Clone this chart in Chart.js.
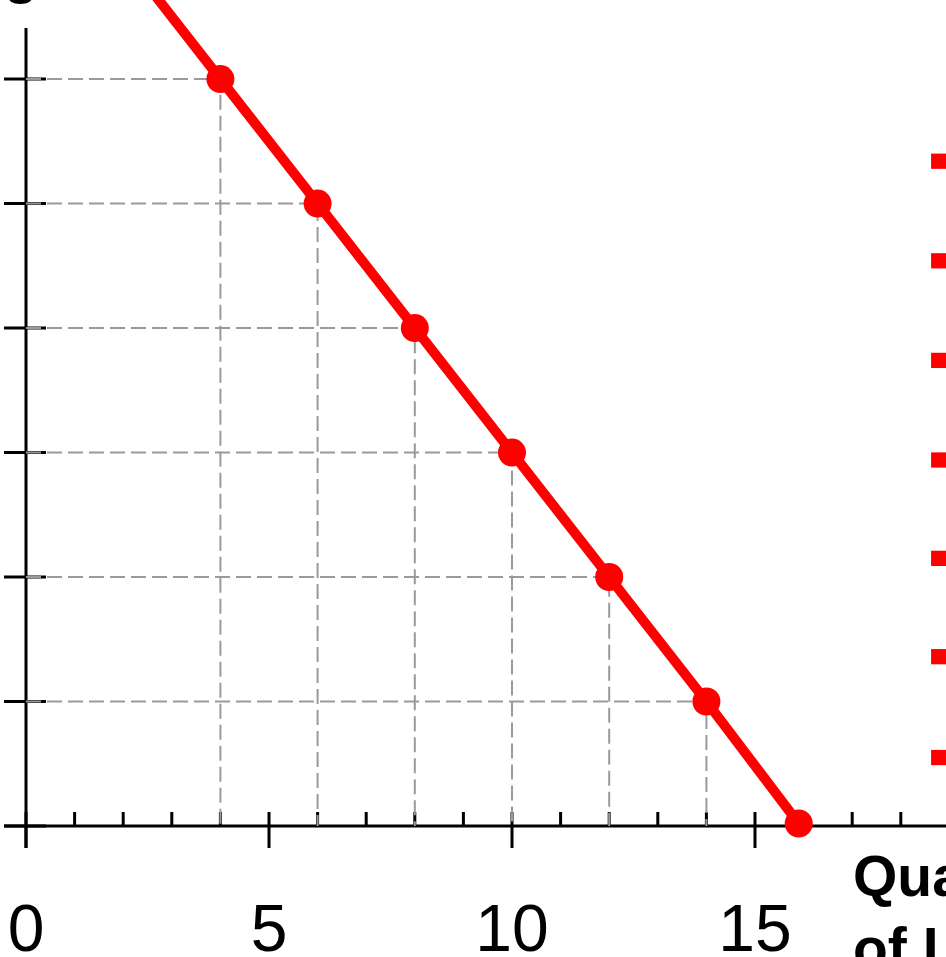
<!DOCTYPE html>
<html>
<head>
<meta charset="utf-8">
<script src="https://cdn.jsdelivr.net/npm/chart.js@4/dist/chart.umd.min.js"></script>
<style>
  html, body { margin: 0; padding: 0; background: #ffffff; overflow: hidden; }
  canvas { display: block; }
</style>
</head>
<body>
<canvas id="c" width="946" height="957"></canvas>
<script>
// ---- data ----
const labourQty   = [2, 4, 6, 8, 10, 12, 14, 15.9];
const wageValues  = [7, 6, 5, 4, 3, 2, 1, 0.02];
const shownPoints = [false, true, true, true, true, true, true, true];
const dropLineIdx = [1, 2, 3, 4, 5, 6];
const markerX     = 18.78;
const markerY     = [5.34, 4.54, 3.74, 2.94, 2.15, 1.36, 0.55];
const xTickLabels = ['0', '5', '10', '15'];
const xTickValues = [0, 5, 10, 15];
const xMinorTicks = [1, 2, 3, 4, 6, 7, 8, 9, 11, 12, 13, 14, 16, 17, 18];
const yTickValues = [0, 1, 2, 3, 4, 5, 6];
const xTitleLines = ['Quantity', 'of Labor'];
const yTitle      = 'Wage';

// ---- datasets ----
const mainData = labourQty.map((x, i) => ({ x: x, y: wageValues[i] }));
const datasets = [
  {
    label: 'Demand',
    data: mainData,
    showLine: true,
    borderColor: '#ff0000',
    backgroundColor: '#ff0000',
    borderWidth: 10,
    pointRadius: shownPoints.map(s => s ? 14 : 0),
    pointHoverRadius: shownPoints.map(s => s ? 14 : 0),
    pointBackgroundColor: '#ff0000',
    pointBorderWidth: 0,
    clip: false,
    order: 0
  },
  {
    label: 'Markers',
    data: markerY.map(y => ({ x: markerX, y: y })),
    showLine: false,
    pointStyle: 'rect',
    pointRadius: 10.8,
    pointHoverRadius: 10.8,
    pointBackgroundColor: '#ff0000',
    pointBorderWidth: 0,
    clip: false,
    order: 1
  }
];
dropLineIdx.forEach(i => {
  datasets.push({
    label: 'drop' + i,
    data: [ { x: 0, y: wageValues[i] }, { x: labourQty[i], y: wageValues[i] }, { x: labourQty[i], y: 0 } ],
    showLine: true,
    borderColor: '#9a9a9a',
    borderWidth: 2,
    borderDash: [15, 6],
    pointRadius: 0,
    pointHoverRadius: 0,
    fill: false,
    clip: false,
    order: 5
  });
});

// ---- axes plugin ----
const axesPlugin = {
  id: 'axesPlugin',
  beforeDatasetsDraw(chart) {
    const ctx = chart.ctx;
    const xs = chart.scales.x, ys = chart.scales.y;
    const x0 = xs.getPixelForValue(0);
    const y0 = ys.getPixelForValue(0);
    ctx.save();
    ctx.strokeStyle = '#000000';
    ctx.lineWidth = 3;
    ctx.lineCap = 'butt';
    // axis lines
    ctx.beginPath();
    ctx.moveTo(4, y0); ctx.lineTo(chart.width, y0);
    ctx.moveTo(x0, 28); ctx.lineTo(x0, y0 + 22);
    ctx.stroke();
    // y ticks
    ctx.beginPath();
    yTickValues.forEach(v => {
      const p = ys.getPixelForValue(v);
      ctx.moveTo(x0 - 22, p); ctx.lineTo(x0 + 20, p);
    });
    // x major ticks
    xTickValues.forEach(v => {
      const p = xs.getPixelForValue(v);
      ctx.moveTo(p, y0 - 14); ctx.lineTo(p, y0 + 22);
    });
    // x minor ticks
    xMinorTicks.forEach(v => {
      const p = xs.getPixelForValue(v);
      ctx.moveTo(p, y0 - 14); ctx.lineTo(p, y0);
    });
    ctx.stroke();
    // x tick labels
    ctx.fillStyle = '#000000';
    ctx.font = '66px "Liberation Sans", Arial, sans-serif';
    ctx.textAlign = 'center';
    ctx.textBaseline = 'alphabetic';
    xTickValues.forEach((v, i) => {
      ctx.fillText(xTickLabels[i], xs.getPixelForValue(v), 951);
    });
    // titles
    ctx.font = 'bold 57px "Liberation Sans", Arial, sans-serif';
    ctx.textAlign = 'left';
    ctx.fillText(xTitleLines[0], 853, 896);
    ctx.fillText(xTitleLines[1], 853, 968);
    ctx.fillText(yTitle, -80, -8);
    ctx.restore();
  }
};

new Chart(document.getElementById('c'), {
  type: 'scatter',
  data: { datasets: datasets },
  options: {
    responsive: false,
    animation: false,
    events: [],
    layout: { autoPadding: false, padding: { left: 26, right: 0, top: 0, bottom: 131 } },
    plugins: { legend: { display: false }, tooltip: { enabled: false } },
    scales: {
      x: { type: 'linear', min: 0, max: 18.93, display: false },
      y: { type: 'linear', min: 0, max: 6.635, display: false }
    }
  },
  plugins: [axesPlugin]
});
</script>
</body>
</html>
